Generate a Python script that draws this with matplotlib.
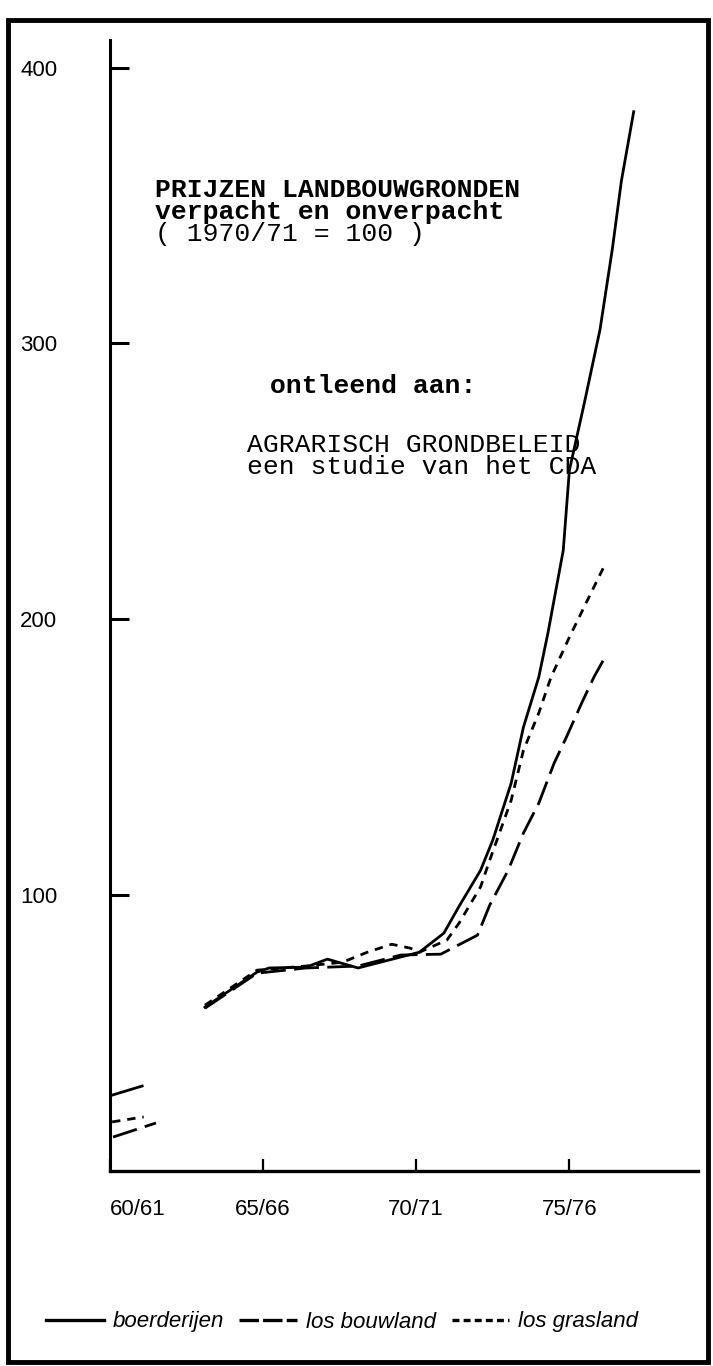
import matplotlib
matplotlib.use("Agg")
import matplotlib.pyplot as plt
from matplotlib.patches import Rectangle
from matplotlib.lines import Line2D

plt.rcParams['lines.scale_dashes'] = False

# jaar-as: 60 = 1960/61, 65 = 1965/66 ...
tick_pos = [60, 65, 70, 75]
tick_lab = ["60/61", "65/66", "70/71", "75/76"]
y_ticks = [100, 200, 300, 400]

# boerderijen (getrokken lijn)
boer_vroeg_x = [60.07, 61.05]
boer_vroeg_y = [27.5, 30.8]
boer_x = [63.1, 64.8, 65.2, 66.4, 67.1, 68.1, 70.1, 70.9, 71.4, 72.1, 72.5,
          73.1, 73.5, 74.0, 74.3, 74.6, 74.8, 75.0, 75.5, 76.0, 76.4, 76.7, 77.1]
boer_y = [59.4, 72.1, 73.6, 73.9, 76.8, 73.6, 79.3, 86.2, 96.0, 109, 120,
          140.6, 160.9, 179, 195, 213, 225, 254, 279, 305, 334, 359, 384]

# los bouwland (lange streep)
bouw_vroeg_x = [60.1, 61.5]
bouw_vroeg_y = [12.3, 17.4]
bouw_x = [63.1, 64.8, 66.4, 68.1, 69.5, 70.8, 72.0, 72.4, 73.0, 73.5, 74.0,
          74.5, 74.9, 75.4, 75.8, 76.2]
bouw_y = [59, 71.7, 73.6, 74.3, 78.3, 78.6, 85.5, 96.4, 109, 122.5, 133.3,
          147.8, 157.2, 169.6, 179, 187]

# los grasland (korte streep)
gras_vroeg_x = [60.07, 61.1]
gras_vroeg_y = [17.8, 19.6]
gras_x = [63.1, 64.8, 66.4, 67.6, 68.4, 69.2, 69.8, 70.1, 71.0, 71.4, 72.1,
          72.4, 73.1, 73.5, 74.0, 74.4, 75.0, 75.7, 76.2]
gras_y = [60.1, 72.8, 74.3, 75.7, 79.3, 82.2, 80.8, 79.3, 83.7, 89.9, 103,
          112.7, 134.4, 152.5, 166, 179, 193.5, 209.4, 220.7]

W, H = 713, 1366
fig = plt.figure(figsize=(W / 100, H / 100), dpi=100)
ax = fig.add_axes([110 / W, (H - 1171) / H, 588 / W, (1171 - 40) / H])
ax.set_xlim(60, 79.2)
ax.set_ylim(0, 410)

lw = 2.0
lang = (0, (18, 6))
kort = (0, (6, 5))
ax.plot(boer_vroeg_x, boer_vroeg_y, color='black', lw=lw)
ax.plot(boer_x, boer_y, color='black', lw=lw, label='boerderijen')
ax.plot(bouw_vroeg_x, bouw_vroeg_y, color='black', lw=lw, ls=lang)
ax.plot(bouw_x, bouw_y, color='black', lw=lw, ls=lang, label='los bouwland')
ax.plot(gras_vroeg_x, gras_vroeg_y, color='black', lw=lw, ls=kort)
ax.plot(gras_x, gras_y, color='black', lw=lw, ls=kort, label='los grasland')

for s in ['top', 'right']:
    ax.spines[s].set_visible(False)
ax.spines['left'].set_linewidth(2.2)
ax.spines['bottom'].set_linewidth(2.4)

sans = 'Liberation Sans'
ax.set_yticks(y_ticks)
ax.set_yticklabels([str(v) for v in y_ticks], family=sans, fontsize=16,
                   color='black')
ax.tick_params(axis='y', direction='in', length=14, width=2.2, pad=38)
ax.set_xticks(tick_pos)
ax.set_xticklabels(tick_lab, family=sans, fontsize=16, color='black')
ax.get_xticklabels()[0].set_ha('left')
ax.tick_params(axis='x', direction='in', length=9, width=1.6, pad=20)

mono = 'Liberation Mono'
fig.text(155 / W, 1 - 190 / H, "PRIJZEN LANDBOUWGRONDEN", family=mono,
         fontsize=19, fontweight='bold', va='center')
fig.text(155 / W, 1 - 212 / H, "verpacht en onverpacht", family=mono,
         fontsize=19, fontweight='bold', va='center')
fig.text(155 / W, 1 - 234 / H, "( 1970/71 = 100 )", family=mono,
         fontsize=19, va='center')
fig.text(270 / W, 1 - 386 / H, "ontleend aan:", family=mono,
         fontsize=19, fontweight='bold', va='center')
fig.text(247 / W, 1 - 445 / H, "AGRARISCH GRONDBELEID", family=mono,
         fontsize=19, va='center')
fig.text(247 / W, 1 - 467 / H, "een studie van het CDA", family=mono,
         fontsize=19, va='center')

# legenda onderaan
handles = [Line2D([], [], color='black', lw=2.4),
           Line2D([], [], color='black', lw=2.4, ls=(0, (14, 3))),
           Line2D([], [], color='black', lw=2.4, ls=(0, (5, 3)))]
fig.legend(handles, ['boerderijen', 'los bouwland', 'los grasland'],
           loc='center', bbox_to_anchor=(342 / W, 1 - 1322 / H), ncol=3,
           frameon=False, handlelength=2.6, handletextpad=0.4,
           columnspacing=0.7,
           prop={'family': sans, 'style': 'italic', 'size': 16})

# kader rond de figuur
fig.patches.append(Rectangle((8 / W, 4 / H), 700 / W, 1342 / H,
                             transform=fig.transFigure, fill=False,
                             edgecolor='black', lw=3.5))

fig.savefig('out.png', dpi=100, facecolor='white')
